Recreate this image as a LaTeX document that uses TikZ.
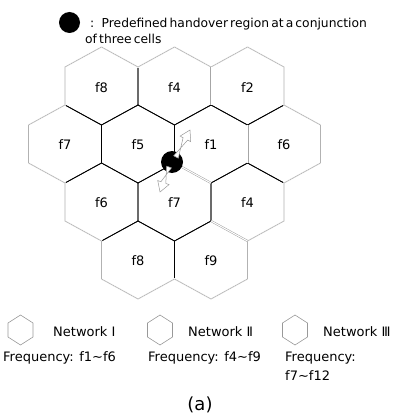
\documentclass[tikz,border=0pt]{standalone}
\usepackage{fontspec}
\setmainfont{DejaVu Sans}
\newfontfamily\keyfont{DejaVu Sans}[WordSpace=0.55]
\usetikzlibrary{calc}
% hexagon geometry: half width, half vertical edge, centre-to-apex
\def\hw{36.5}\def\hh{19}\def\hv{39}
\newcommand\hexcell[2]{\draw[cell] ({#1-\hw},{#2-\hh}) -- ({#1},{#2-\hv}) -- ({#1+\hw},{#2-\hh}) -- ({#1+\hw},{#2+\hh}) -- ({#1},{#2+\hv}) -- ({#1-\hw},{#2+\hh}) -- cycle;}
\newcommand\minihex[2]{\draw[minicell] ({#1-12.5},{#2-7}) -- ({#1},{#2-15}) -- ({#1+12.5},{#2-7}) -- ({#1+12.5},{#2+7}) -- ({#1},{#2+15}) -- ({#1-12.5},{#2+7}) -- cycle;}
% hollow arrow from #1 to #2
\newcommand\hollowarrow[2]{%
  \coordinate (hb) at ($(#2)!10pt!(#1)$);
  \draw[harrow] ($(#1)!2.6pt!90:(#2)$) -- ($(hb)!2.6pt!-90:(#2)$) -- ($(hb)!6pt!-90:(#2)$) -- (#2)
     -- ($(hb)!6pt!90:(#2)$) -- ($(hb)!2.6pt!90:(#2)$) -- ($(#1)!2.6pt!-90:(#2)$) -- cycle;}
\begin{document}
\begin{tikzpicture}[x=1pt,y=-1pt,
  cell/.style={draw=black,line width=0.75pt,line join=round},
  rim/.style={draw=gray!60,line width=0.6pt,line join=round},
  rimback/.style={draw=white,line width=1.8pt,line join=round},
  dbl/.style={draw=gray!70,line width=0.5pt,double=white,double distance=1pt},
  minicell/.style={draw=gray!80,line width=0.6pt},
  lbl/.style={font=\fontsize{13}{14}\selectfont,inner sep=0pt},
  legend/.style={font=\fontsize{13}{14}\selectfont,inner sep=0pt,anchor=base west},
  keytext/.style={font=\keyfont\fontsize{12.3}{14}\selectfont,inner sep=0pt,anchor=base west},
  dot/.style={circle,fill=black,inner sep=0pt},
  harrow/.style={draw=gray!80,fill=white,line width=0.5pt,line join=miter}]
\useasboundingbox (0,0) rectangle (393,417);

% cells, row by row
\foreach \x in {101.5,174.5,247.5} {\hexcell{\x}{86}}
\foreach \x in {65,138,211,284} {\hexcell{\x}{144}}
\foreach \x in {101.5,174.5,247.5} {\hexcell{\x}{202}}
\foreach \x in {138,211} {\hexcell{\x}{260}}

% outer rim in light grey
\draw[rimback] (65,105) -- (65,67) -- (101.5,47) -- (138,67) -- (174.5,47) -- (211,67) -- (247.5,47) -- (284,67) -- (284,105)
  -- (320.5,125) -- (320.5,163) -- (284,183) -- (284,221) -- (247.5,241) -- (247.5,279) -- (211,299) -- (174.5,279)
  -- (138,299) -- (101.5,279) -- (101.5,241) -- (65,221) -- (65,183) -- (28.5,163) -- (28.5,125) -- cycle;
\draw[rim] (65,105) -- (65,67) -- (101.5,47) -- (138,67) -- (174.5,47) -- (211,67) -- (247.5,47) -- (284,67) -- (284,105)
  -- (320.5,125) -- (320.5,163) -- (284,183) -- (284,221) -- (247.5,241) -- (247.5,279) -- (211,299) -- (174.5,279)
  -- (138,299) -- (101.5,279) -- (101.5,241) -- (65,221) -- (65,183) -- (28.5,163) -- (28.5,125) -- cycle;

% doubled borders
\draw[dbl] (174.5,163) -- (211,183);
\draw[dbl] (211,221) -- (247.5,241);
\draw[dbl] (247.5,125) -- (247.5,163);
\draw[dbl] (211,67) -- (211,105);

% frequency labels
\node[lbl] (r1a) at (101.5,88) {f8};
\node[lbl] (r1b) at (174.5,88) {f4};
\node[lbl] (r1c) at (247.5,88) {f2};
\node[lbl] (r2a) at (65,145) {f7};
\node[lbl] (r2b) at (138,145) {f5};
\node[lbl] (r2c) at (211,145) {f1};
\node[lbl] (r2d) at (284,145) {f6};
\node[lbl] (r3a) at (101.5,203) {f6};
\node[lbl] (r3b) at (174.5,203) {f7};
\node[lbl] (r3c) at (247.5,203) {f4};
\node[lbl] (r4a) at (138,261) {f8};
\node[lbl] (r4b) at (211,261) {f9};

% handover region and movement arrows
\node[dot,minimum size=22pt] (hdot) at (172,162) {};
\coordinate (up0) at (176,157);
\coordinate (up1) at (190,130);
\coordinate (dn0) at (169,167);
\coordinate (dn1) at (160,192);
\hollowarrow{up0}{up1}
\hollowarrow{dn0}{dn1}

% key at the top
\node[dot,minimum size=21pt] (kdot) at (69.5,22.5) {};
\node[keytext] (kcolon) at (90,27.3) {:};
\node[keytext] (ktext) at (101.5,27.3) {Predefined handover region at a conjunction};
\node[keytext] (ktext2) at (85,43.3) {of three cells};

% network legend
\minihex{20.5}{330}
\minihex{160}{330}
\minihex{295}{330}
\node[legend] (n1) at (53,336) {Network Ⅰ};
\node[legend] (q1) at (3,361.7) {Frequency: f1\textasciitilde f6};
\node[legend] (n2) at (188,336) {Network Ⅱ};
\node[legend] (q2) at (148,361.7) {Frequency: f4\textasciitilde f9};
\node[legend] (n3) at (323,336) {Network Ⅲ};
\node[legend] (q3) at (285,361.7) {Frequency:};
\node[legend] (q3b) at (285,380) {f7\textasciitilde f12};
\node[font=\fontsize{18}{20}\selectfont,inner sep=0pt,anchor=base] (cap) at (200,410) {(a)};
\end{tikzpicture}
\end{document}
